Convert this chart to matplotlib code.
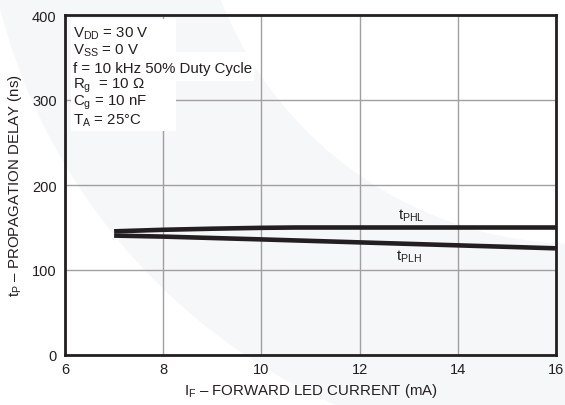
import matplotlib
matplotlib.use('Agg')
import matplotlib.pyplot as plt
from matplotlib.patches import Wedge, Rectangle

plt.rcParams['font.family'] = ['Liberation Sans', 'DejaVu Sans']
plt.rcParams['mathtext.fontset'] = 'custom'
plt.rcParams['mathtext.rm'] = 'Liberation Sans'
plt.rcParams['mathtext.it'] = 'Liberation Sans:italic'

# forward LED current (mA) vs propagation delay (ns)
i_phl = [7, 8, 9, 10, 10.7, 12, 14, 16]
t_phl = [145.5, 147.3, 148.6, 149.6, 150, 150, 150, 150]
i_plh = [7, 8, 10, 12, 14, 16]
t_plh = [140.5, 139.3, 136, 132.5, 129, 125.5]

conditions = [
    r'V$_{\mathrm{DD}}$ = 30 V',
    r'V$_{\mathrm{SS}}$ = 0 V',
    'f = 10 kHz 50% Duty Cycle',
    r'R$_{\mathrm{g}}$  = 10 Ω',
    r'C$_{\mathrm{g}}$ = 10 nF',
    r'T$_{\mathrm{A}}$ = 25°C',
]

ink = '#231f20'

fig = plt.figure(figsize=(5.65, 4.06), dpi=100)
fig.patch.set_facecolor('white')

# faint watermark band behind everything
bg = fig.add_axes([0, 0, 1, 1], zorder=-1)
bg.set_xlim(0, 565)
bg.set_ylim(406, 0)
bg.axis('off')
bg.add_patch(Wedge((579, -140), 598, 0, 360, width=213,
                   facecolor='#f6f7f9', edgecolor='none'))

ax = fig.add_axes([65 / 565, 1 - 356 / 406, 491 / 565, 340 / 406])
ax.set_facecolor('none')

ax.plot(i_phl, t_phl, color=ink, lw=3.3, solid_capstyle='butt', zorder=3)
ax.plot(i_plh, t_plh, color=ink, lw=3.3, solid_capstyle='butt', zorder=3)

ax.set_xlim(6, 16)
ax.set_ylim(0, 400)
ax.set_xticks([6, 8, 10, 12, 14, 16])
ax.set_yticks([0, 100, 200, 300, 400])
ax.grid(True, color='#a0a0a0', lw=1.0, zorder=0)
ax.set_axisbelow(True)
ax.tick_params(length=0, labelsize=10.5, colors='#231f20')
ax.tick_params(axis='x', pad=5)
ax.tick_params(axis='y', pad=6)
for s in ax.spines.values():
    s.set_linewidth(2.0)
    s.set_color(ink)
    s.set_zorder(4)

ax.set_xlabel(r'I$_{\mathrm{F}}$ – FORWARD LED CURRENT (mA)', fontsize=10.8,
              color=ink, labelpad=4)
ax.set_ylabel(r't$_{\mathrm{P}}$ – PROPAGATION DELAY (ns)', fontsize=10.8,
              color=ink, labelpad=6)

# conditions box
ax.add_patch(Rectangle((6.12, 263), 2.14, 132.5, facecolor='white',
                       edgecolor='none', zorder=2))
ax.add_patch(Rectangle((6.12, 322), 3.72, 34.5, facecolor='white',
                       edgecolor='none', zorder=2))
for k, line in enumerate(conditions):
    ax.text(6.17, 379 - k * 20.4, line, fontsize=10.8, color=ink,
            va='center', ha='left', zorder=3)

ax.text(12.78, 164.5, r't$_{\mathrm{PHL}}$', fontsize=10.8, color=ink,
        va='center', ha='left')
ax.text(12.74, 116.5, r't$_{\mathrm{PLH}}$', fontsize=10.8, color=ink,
        va='center', ha='left')

fig.savefig('out.png', dpi=100)
